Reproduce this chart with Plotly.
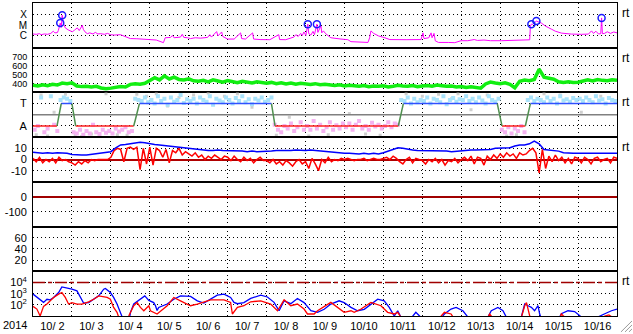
import pandas as pd
import plotly.graph_objects as go
from plotly.subplots import make_subplots

START = pd.Timestamp("2014-10-02 00:00")
END = pd.Timestamp("2014-10-17 00:00")

# ---------------- X-ray flux (hour since 10/2 00UT, W/m^2) ----------------
xray_points = [
    (0, 1.4e-6), (2, 1.3e-6), (4, 1.5e-6), (5, 1.2e-6), (7, 1.4e-6), (9, 1.3e-6),
    (11, 1.6e-6), (12.5, 2.6e-6), (13.5, 1.8e-6), (15, 1.9e-6), (15.6, 3e-6),
    (16.2, 8.6e-6), (16.8, 1.6e-5), (17.4, 6e-6), (18.0, 9.4e-5), (18.7, 1.5e-5),
    (19.9, 5.5e-6), (21.7, 3.5e-6), (23, 2.8e-6), (24.2, 2.3e-6), (25.5, 3.2e-6),
    (27.3, 5.5e-6), (28.5, 3e-6), (30.4, 1e-5), (31.0, 4e-6), (32, 2.3e-6),
    (33.5, 1.5e-6), (35, 1.8e-6), (37, 1.4e-6), (38.4, 2e-6), (40, 1.4e-6),
    (41.5, 1.5e-6), (44, 1.3e-6), (46, 1.6e-6), (47.7, 1.2e-6), (50, 1.1e-6),
    (53.9, 1.2e-6), (56, 9e-7), (58.2, 6e-7), (60, 5e-7), (64, 4.8e-7),
    (66, 4.5e-7), (70, 4e-7), (72.4, 3.9e-7), (76, 3.6e-7), (80.4, 2.0e-7),
    (81.5, 6e-7), (84.7, 6.4e-7), (86, 1e-6), (87, 6e-7), (90.9, 7e-7),
    (92, 1.3e-6), (93, 6.5e-7), (95.3, 6e-7), (97.1, 5e-7), (100, 6e-7),
    (103.3, 5.5e-7), (107.6, 6.5e-7), (109, 1.2e-6), (110, 7e-7), (113.2, 2.4e-6),
    (114, 9e-7), (116.3, 2.2e-6), (117, 8e-7), (120, 4.5e-7), (124, 4.5e-7),
    (128, 1.8e-6), (128.6, 5e-7), (131, 4.5e-7), (135.4, 1.8e-6), (136, 4.5e-7),
    (140, 4e-7), (146, 3.9e-7), (151.5, 1.2e-6), (152, 4e-7), (155.8, 3.9e-7),
    (160.8, 7e-7), (162, 1.2e-6), (163.5, 8e-7), (165, 1.6e-6), (166, 1.0e-6),
    (167, 2.2e-6), (168.2, 1.0e-6), (169.4, 1.26e-5), (170, 1.5e-6), (171.3, 1.1e-6),
    (172.6, 2.5e-6), (173.5, 1.2e-6), (175.0, 1.26e-5), (175.6, 2e-6),
    (177.5, 8.6e-6), (178, 1.8e-6), (179, 2.8e-6), (180.5, 1.45e-6), (182, 1e-6),
    (183.6, 6e-7), (189.8, 4.5e-7), (194.1, 3.9e-7), (196, 2.5e-7), (202, 2.1e-7),
    (206.5, 2.1e-7), (207.5, 6e-7), (208.3, 2.8e-6), (210, 1.6e-6), (213, 9e-7),
    (216.3, 6.4e-7), (220, 4e-7), (230, 3.9e-7), (239.2, 4e-7), (240.4, 1.8e-6),
    (241, 5e-7), (244, 6e-7), (245.4, 1.8e-6), (246, 6e-7), (247.2, 1.6e-6),
    (248, 3e-7), (250, 2.1e-7), (256, 2.1e-7), (260, 2e-7), (263.9, 3.1e-7),
    (268, 3.1e-7), (272, 4e-7), (274, 3.3e-7), (278, 3.6e-7), (282, 3.1e-7),
    (288.7, 3.1e-7), (294.9, 3.3e-7), (301.1, 3.1e-7), (305, 3.6e-7),
    (306.2, 3.8e-7), (306.6, 8e-6), (307.2, 1.26e-5), (308, 1.2e-5),
    (310.3, 2.5e-5), (313.4, 1.6e-5), (316, 8e-6), (319.6, 4.1e-6), (322, 2.6e-6),
    (325.8, 1.7e-6), (331.9, 1.37e-6), (338.1, 1.3e-6), (342.4, 1.37e-6),
    (344.3, 2.8e-6), (345.5, 1.6e-6), (347, 2.6e-6), (348.6, 1.4e-6), (350, 1.5e-6),
    (350.5, 5.1e-5), (351, 1.5e-6), (352.3, 1.6e-6), (354, 2.3e-6), (356, 1.6e-6),
    (358, 2.2e-6), (360, 1.8e-6),
]
flare_hours = [16.8, 18.0, 169.4, 175.0, 307.2, 310.3, 350.5]
flare_flux = [1.6e-5, 9.4e-5, 1.26e-5, 1.26e-5, 1.26e-5, 2.5e-5, 5.1e-5]

# ---------------- Solar wind speed (km/s), 3-hourly, one row per day ----------------
speed_by_day = [
    [380, 372, 385, 375, 390, 383, 405, 398],
    [408, 372, 365, 370, 362, 368, 350, 342],
    [348, 358, 365, 360, 390, 398, 392, 402],
    [430, 465, 440, 485, 450, 470, 445, 440],
    [452, 430, 425, 435, 418, 440, 428, 415],
    [432, 420, 410, 425, 415, 405, 418, 410],
    [402, 412, 398, 408, 395, 405, 392, 402],
    [395, 388, 398, 385, 392, 380, 378, 385],
    [372, 380, 375, 370, 378, 365, 372, 368],
    [375, 362, 370, 380, 372, 368, 376, 365],
    [372, 378, 370, 382, 375, 368, 372, 360],
    [365, 355, 362, 350, 348, 395, 415, 405],
    [398, 408, 390, 352, 425, 438, 430, 445],
    [560, 470, 455, 448, 420, 412, 418, 410],
    [415, 432, 440, 428, 445, 435, 430, 442],
]
speed_last = 436

# ---------------- IMF phi angle (deg), 2-hourly, one row per day ----------------
phi_by_day = [
    [60, 90, 320, 40, 70, 330, 100, 50, 300, 320, 310, 290],
    [40, 30, 60, 20, 50, 30, 100, 40, 25, 60, 35, 50],
    [30, 70, 45, 60, 80, 40, 50, 310, 300, 290, 320, 280],
    [300, 270, 330, 290, 310, 260, 320, 285, 300, 340, 275, 305],
    [290, 310, 270, 320, 300, 285, 330, 260, 310, 295, 280, 320],
    [300, 270, 315, 290, 330, 280, 305, 265, 310, 295, 320, 285],
    [300, 320, 100, 60, 40, 90, 70, 110, 50, 80, 120, 60],
    [90, 60, 130, 70, 100, 50, 80, 120, 60, 95, 70, 110],
    [80, 110, 60, 100, 130, 70, 90, 60, 115, 85, 100, 70],
    [90, 120, 80, 110, 100, 300, 290, 320, 270, 310, 280, 300],
    [290, 320, 270, 310, 300, 280, 330, 265, 300, 315, 285, 305],
    [300, 330, 290, 310, 280, 320, 295, 270, 330, 300, 285, 310],
    [60, 40, 80, 30, 70, 50, 90, 40, 300, 320, 290, 310],
    [300, 280, 320, 290, 310, 270, 330, 295, 305, 285, 315, 300],
    [310, 290, 320, 300, 280, 330, 295, 305, 270, 315, 300, 290],
]
phi_gray_hours = [2, 5, 9, 13, 20, 26, 30, 36, 41, 45, 52, 58, 64, 70, 76, 83, 90, 99,
                  108, 118, 126, 135, 150, 158, 170, 182, 195, 205, 214, 230, 240, 250,
                  258, 262, 270, 280, 292, 298, 315, 325, 338, 350]
phi_gray = [20, 340, 10, 200, 345, 15, 5, 25, 10, 350, 20, 15, 345, 330, 350, 250, 320,
            340, 355, 330, 350, 240, 15, 160, 10, 20, 190, 25, 15, 350, 330, 345, 310,
            350, 220, 340, 10, 20, 350, 340, 200, 330]

# predicted sector (A = 90 deg away, T = 270 deg toward)
sector_hours = [0, 14.8, 17.4, 24.0, 26.3, 62.1, 65.6, 147.0, 149.2, 225.2, 228.3,
                286.2, 289.1, 303.5, 306.6, 360]
sector_phi = [90, 90, 270, 270, 90, 90, 270, 270, 90, 90, 270, 270, 90, 90, 270, 270]

# ---------------- IMF Bt (3-hourly) and Bz (2-hourly), nT ----------------
bt_by_day = [
    [6.5, 6, 5.5, 6, 5.5, 6, 6, 5.5],
    [4.5, 4, 4, 4, 4.5, 5, 5.5, 6],
    [7, 10.5, 13, 13.5, 14, 14.5, 15.5, 15],
    [14, 13.5, 13, 12.5, 12, 11.5, 11, 10],
    [9.5, 9, 8.5, 8.5, 8, 8, 8.5, 8],
    [8, 7.5, 8, 7.5, 7, 7.5, 7, 7],
    [7, 7.5, 8, 8, 7.5, 8, 8.5, 8],
    [8, 8.5, 8, 7.5, 7, 6.5, 6, 6],
    [5.5, 5.5, 5, 5, 5.5, 5, 5.5, 5],
    [6, 7.5, 9, 10.5, 10, 9, 8.5, 8],
    [8, 7.5, 8, 7.5, 8, 7.5, 7, 7.5],
    [7.5, 8, 8.5, 8.5, 8.5, 8.5, 9, 10],
    [10, 10, 10.5, 12, 13, 13, 14, 16.5],
    [14, 9, 8.5, 8.5, 7.5, 6, 5.5, 5.5],
    [5.5, 5.5, 6, 5.5, 5.5, 6, 5.5, 5.5],
]
bt_last = 5.5
bz_by_day = [
    [1, -2, 2, -3, 0, -2, 1, -3, 2, -1, 0, -2],
    [-3, -5, -2, -4, -1, -3, 0, -1, 0, 0, 0.5, 0],
    [2, 8, 10, 9, -2, 10, 11, 9, 11, -9, 10, -4],
    [11, -5, 10, 8, 2, 9, -3, 8, 6, 10, 4, 7],
    [5, 3, 6, 2, 4, 0, 3, 1, 4, 2, 0, 3],
    [2, -1, 3, 0, -2, 2, -1, 1, -3, 0, 2, -1],
    [-1, -3, 0, -4, -2, -5, -1, -3, -6, -2, 0, -4],
    [-2, -8, 1, -4, -10, 0, -3, 2, -2, 0, -1, 1],
    [0, 1, 0, -1, 0, 0, 1, -1, 0, 1, 0, 0],
    [1, 2, 0, 3, 1, -2, -4, 0, 2, -3, 1, 0],
    [-1, -4, 0, -2, 1, -3, 0, -5, -1, -2, 1, -3],
    [0, 2, -1, 3, -4, 2, 1, -5, 3, 0, 4, 1],
    [5, 2, 6, 3, 5, 1, 6, 4, 5, 8, 10, 6],
    [-12, 9, -8, 3, -2, 4, -1, 2, -3, 1, -4, 2],
    [1, -3, 2, 0, -4, 1, 2, -2, 0, 1, -3, 2],
]
bz_last = 1

# ---------------- Electron flux, log10 (hour, log10 flux); None = off scale ----------------
elec_hi_points = [
    (0, 2.96), (2.4, 2.7), (6.5, 2.22), (8.6, 2.5), (10.6, 2.45), (12.7, 2.66),
    (15.8, 3.1), (17.8, 3.6), (21.9, 3.5), (24.0, 3.4), (27.1, 3.25), (29.2, 2.66),
    (31.2, 2.15), (34.3, 2.2), (37.4, 2.5), (40.5, 2.8), (43.6, 3.4), (44.6, 3.46),
    (47.7, 3.1), (49.7, 2.66), (51.8, 2.07), (53.9, 1.18), (55.0, 0.9), (57, None),
    (59.6, 0.9), (60.1, 1.33), (62.1, 2.07), (66.2, 2.5), (68.9, 2.8), (71.4, 2.4),
    (74.4, 2.2), (75.5, 1.92), (76.5, 1.5), (77.5, 1.77), (82.7, 2.07), (86.8, 2.5),
    (90.9, 2.8), (97.1, 2.75), (101.3, 2.36), (105.3, 2.15), (109.5, 2.5),
    (113.6, 2.87), (117.7, 2.96), (121.8, 2.66), (123.9, 2.22), (126.0, 2.1),
    (130.0, 2.2), (134.2, 2.57), (140.4, 2.87), (144.5, 2.7), (148.6, 2.22),
    (151.7, 1.47), (154.8, 2.36), (158.9, 2.1), (163.0, 2.57), (167.1, 2.2),
    (171.3, 1.47), (175.4, 1.33), (179.5, 1.6), (183.6, 2.07), (188.7, 2.36),
    (191.8, 2.2), (196.0, 1.77), (200.1, 1.47), (204.2, 1.6), (208.3, 2.07),
    (212.5, 2.5), (216.5, 2.36), (219.6, 1.77), (222.7, 1.0), (224.8, 1.47),
    (226.8, 0.9), (230, None), (233.6, 0.9), (236, 1.33), (239, 0.9), (245, None),
    (252.1, 0.9), (253.6, 1.18), (257.7, 1.62), (260.8, 1.77), (265.0, 1.47),
    (268.1, 0.9), (275, None), (280.4, 0.9), (282.5, 1.47), (286.6, 1.77),
    (289.7, 1.47), (291.8, 0.9), (296, None), (301.0, 0.9), (303.1, 2.07),
    (305.2, 1.92), (307.2, 1.77), (309.2, 1.47), (311.3, 1.92), (312.3, 1.2),
    (313.0, 0.9), (318, None), (324.6, 0.9), (325.7, 1.2), (329.8, 1.47),
    (333.9, 1.4), (338.1, 0.9), (343, None), (348.1, 0.9), (349.4, 1.0),
    (352.5, 1.2), (356.6, 1.47), (360, 1.62),
]
elec_lo_points = [
    (0, 1.86), (2.4, 1.62), (4.4, 1.0), (6.5, 1.86), (8.6, 2.07), (12.7, 2.66),
    (15.8, 2.96), (17.8, 3.1), (19.9, 2.66), (21.9, 2.07), (24.0, 2.2), (27.1, 2.07),
    (30.2, 2.07), (34.3, 2.27), (37.4, 2.5), (40.5, 2.8), (45.7, 2.66), (47.7, 2.5),
    (49.7, 1.77), (51.8, 1.33), (52.8, 0.9), (56, None), (59.0, 1.0), (62.1, 1.92),
    (64.2, 2.2), (66.2, 1.77), (68.3, 1.47), (71.4, 1.92), (72.4, 1.47),
    (76.5, 1.18), (82.7, 1.92), (86.8, 2.66), (90.9, 2.36), (97.1, 1.92),
    (101.3, 2.07), (109.5, 2.45), (117.7, 2.45), (121.8, 2.22), (122.9, 1.18),
    (126.0, 1.77), (130.0, 1.92), (134.2, 2.27), (140.4, 2.36), (146.5, 2.07),
    (150.7, 1.47), (154.8, 2.45), (158.9, 1.92), (163.0, 2.07), (167.1, 1.62),
    (169.2, 1.18), (173.3, 1.18), (175.4, 1.47), (183.6, 2.22), (187.7, 1.77),
    (191.8, 1.33), (196.0, 1.47), (198.0, 1.33), (202, 1.6), (208.3, 2.22),
    (214.5, 1.92), (218.6, 1.33), (222.7, 1.18), (224.8, 1.33), (226.8, 0.9),
    (235, None), (251, 0.9), (253.6, 1.33), (257.7, 1.18), (259, 0.9), (270, None),
    (280.5, 0.9), (281.5, 1.18), (283, 0.9), (290, None), (301.1, 0.9),
    (303.1, 1.92), (304.2, 2.2), (305.2, 1.62), (306.2, 1.0), (307, 0.9),
    (315, None), (325.0, 0.9), (325.7, 1.18), (327, 1.0), (328, 0.9), (340, None),
    (352.0, 0.9), (352.5, 1.0), (355, 1.1), (357, 0.9),
]


def to_time(hours):
    return [START + pd.Timedelta(hours=float(h)) for h in hours]


def flat(rows, last):
    vals = [v for row in rows for v in row] + [last]
    return vals


fig = make_subplots(rows=7, cols=1, shared_xaxes=True, vertical_spacing=0)

# Panel 1: X-ray
xh = [p[0] for p in xray_points]
xf = [p[1] for p in xray_points]
fig.add_trace(go.Scatter(x=to_time(xh), y=xf, mode="lines",
                         line=dict(color="#ff00ff", width=1)), row=1, col=1)
fig.add_trace(go.Scatter(x=to_time(flare_hours), y=flare_flux, mode="markers",
                         marker=dict(symbol="circle-open", size=7, color="#1a1aff",
                                     line=dict(width=1.5, color="#1a1aff"))), row=1, col=1)

# Panel 2: speed
speed = flat(speed_by_day, speed_last)
fig.add_trace(go.Scatter(x=to_time([3 * i for i in range(len(speed))]), y=speed,
                         mode="lines", line=dict(color="#11ee11", width=3.5)), row=2, col=1)

# Panel 3: phi
phi = [v for row in phi_by_day for v in row]
phi_h = [2 * i + 1 for i in range(len(phi))]
bh = [h for h, v in zip(phi_h, phi) if v > 180]
bv = [v for v in phi if v > 180]
ph = [h for h, v in zip(phi_h, phi) if v <= 180]
pv = [v for v in phi if v <= 180]
fig.add_trace(go.Scatter(x=to_time(phi_gray_hours), y=phi_gray, mode="markers",
                         marker=dict(symbol="square", size=3, color="#cfcfcf")), row=3, col=1)
fig.add_trace(go.Scatter(x=to_time(bh), y=bv, mode="markers",
                         marker=dict(symbol="square", size=4, color="#a8e2fb")), row=3, col=1)
fig.add_trace(go.Scatter(x=to_time(ph), y=pv, mode="markers",
                         marker=dict(symbol="square", size=4, color="#f4b2f0")), row=3, col=1)
fig.add_trace(go.Scatter(x=[START, END], y=[180, 180], mode="lines",
                         line=dict(color="#808080", width=1.5)), row=3, col=1)
seg = {"red": ([], []), "blue": ([], []), "green": ([], [])}
for i in range(len(sector_hours) - 1):
    a, b = sector_phi[i], sector_phi[i + 1]
    key = "red" if a == b == 90 else ("blue" if a == b == 270 else "green")
    seg[key][0].extend(to_time([sector_hours[i], sector_hours[i + 1]]) + [None])
    seg[key][1].extend([a, b, None])
for key, col in [("red", "#ff2020"), ("blue", "#3050ff"), ("green", "#4f8f4f")]:
    fig.add_trace(go.Scatter(x=seg[key][0], y=seg[key][1], mode="lines",
                             line=dict(color=col, width=1.5)), row=3, col=1)

# Panel 4: Bz, Bt
bz = flat(bz_by_day, bz_last)
bt = flat(bt_by_day, bt_last)
fig.add_trace(go.Scatter(x=to_time([2 * i for i in range(len(bz))]), y=bz, mode="lines",
                         line=dict(color="#ff0000", width=1.5)), row=4, col=1)
fig.add_trace(go.Scatter(x=to_time([3 * i for i in range(len(bt))]), y=bt, mode="lines",
                         line=dict(color="#0000ff", width=1.5)), row=4, col=1)

# Panels 5 and 6 carry no data: invisible placeholder so the axes render
for r, yv in [(5, -50), (6, 10)]:
    fig.add_trace(go.Scatter(x=[START, END], y=[yv, yv], mode="markers",
                             marker=dict(opacity=0), hoverinfo="skip"), row=r, col=1)

# Panel 7: electrons
fig.add_trace(go.Scatter(x=[START, END], y=[1e4, 1e4], mode="lines",
                         line=dict(color="#a00000", width=1.5, dash="12px,3px,4px,3px")),
              row=7, col=1)
for pts, col in [(elec_hi_points, "#0000ff"), (elec_lo_points, "#ff0000")]:
    fig.add_trace(go.Scatter(x=to_time([p[0] for p in pts]),
                             y=[None if p[1] is None else 10 ** p[1] for p in pts],
                             mode="lines", line=dict(color=col, width=1.3)), row=7, col=1)

FONT = "Liberation Sans, Arial, sans-serif"
grid = dict(showgrid=True, gridcolor="black", griddash="1px,3px", gridwidth=1)

for r in range(1, 8):
    fig.update_xaxes(row=r, col=1, type="date", range=[START, END], dtick=86400000,
                     tick0=START, showline=True, mirror=True, linecolor="black",
                     linewidth=1, ticks="", zeroline=False, **grid)
fig.update_xaxes(row=7, col=1, showticklabels=True, tickformat="%-m/%e",
                 ticklabelmode="period", tickfont=dict(size=11, family=FONT))

yspec = {
    1: dict(type="log", range=[-7.19, -2.84], tickvals=[1e-4, 1e-5, 1e-6],
            ticktext=["X", "M", "C"], tickfont=dict(size=10, family=FONT)),
    2: dict(range=[300, 800], tickvals=[400, 500, 600, 700],
            ticktext=["400", "500", "600", "700"], tickfont=dict(size=9, family=FONT)),
    3: dict(range=[0, 360], tickvals=[90, 270], ticktext=["A", "T"]),
    4: dict(range=[-20, 20], tickvals=[-10, 0, 10], ticktext=["-10", "0", "10"],
            zeroline=True, zerolinecolor="#b00000", zerolinewidth=1.5),
    5: dict(range=[-200, 100], tickvals=[-100, 0], ticktext=["-100", "0"],
            zeroline=True, zerolinecolor="#a00000", zerolinewidth=1.5),
    6: dict(range=[0, 80], tickvals=[20, 40, 60], ticktext=["20", "40", "60"]),
    7: dict(type="log", range=[1, 5], tickvals=[1e2, 1e3, 1e4],
            ticktext=["10<sup>2</sup>", "10<sup>3</sup>", "10<sup>4</sup>"]),
}
for r, spec in yspec.items():
    base = dict(tickmode="array", showline=True, mirror=True, linecolor="black",
                linewidth=1, ticks="", zeroline=False, fixedrange=True,
                ticklabelstandoff=3, tickfont=dict(size=11, family=FONT))
    base.update(grid)
    base.update(spec)
    fig.update_yaxes(row=r, col=1, **base)

ann = [dict(text="2014", xref="paper", yref="paper", x=0, y=0, xshift=-18, yshift=-9,
            showarrow=False, font=dict(size=11, family=FONT), xanchor="center",
            yanchor="middle")]
for r in [1, 2, 3, 4, 7]:
    yname = "y" if r == 1 else f"y{r}"
    ann.append(dict(text="rt", xref="paper", yref=f"{yname} domain", x=1, y=1,
                    xshift=3, yshift=-10, xanchor="left", yanchor="middle",
                    showarrow=False, font=dict(size=12, family=FONT)))

shapes = []
for x0, y1 in [(1.0068, -0.0159), (1.0137, -0.0286), (1.0205, -0.0413)]:
    shapes.append(dict(type="line", xref="paper", yref="paper", x0=x0, y0=-0.0508,
                       x1=1.0257, y1=y1, line=dict(color="#999999", width=1)))

fig.update_layout(width=633, height=334, margin=dict(l=33, r=16, t=2, b=17),
                  plot_bgcolor="white", paper_bgcolor="white", showlegend=False,
                  font=dict(family=FONT, size=12, color="black"),
                  annotations=ann, shapes=shapes)

fig.write_html("out.html")
